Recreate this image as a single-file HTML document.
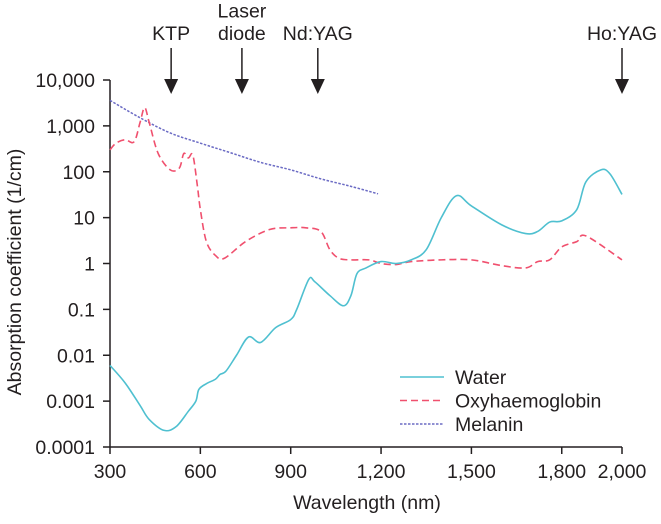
<!DOCTYPE html>
<html><head><meta charset="utf-8"><style>
body{margin:0;background:#fff;}
svg text{font-family:"Liberation Sans",Arial,sans-serif;fill:#231f20;}
</style></head><body>
<svg id="c" width="661" height="519"></svg>
<script>
const waterWl=[300,350,400,430,480,520,560,585,595,620,650,665,685,720,760,800,850,900,920,960,980,1030,1075,1100,1120,1150,1200,1250,1300,1350,1400,1450,1500,1600,1680,1720,1760,1800,1850,1880,1930,1960,2000];
const waterVal=[0.006,0.0025,0.0008,0.0004,0.00023,0.00028,0.0006,0.001,0.0018,0.0024,0.003,0.0038,0.0045,0.01,0.025,0.019,0.04,0.06,0.1,0.45,0.4,0.2,0.12,0.2,0.6,0.8,1.1,1.0,1.2,2,10,30,18,7,4.5,5,8,8.5,15,60,110,90,32];
const oxyWl=[300,320,350,380,400,415,430,460,500,530,545,560,575,590,600,620,650,680,750,830,900,950,1000,1030,1060,1100,1160,1200,1250,1300,1400,1500,1600,1680,1720,1760,1800,1850,1880,2000];
const oxyVal=[300,420,500,450,1200,2500,1200,250,110,120,250,200,230,50,15,3,1.5,1.3,3,5.5,6,6,5,2,1.3,1.2,1.2,1.0,0.95,1.1,1.2,1.2,0.9,0.8,1.1,1.2,2.3,3,4,1.2];
const melWl=[300,400,500,600,700,800,900,1000,1100,1190];
const melVal=[3600,1500,700,420,260,160,110,70,48,33];
const xTicks=[300,600,900,1200,1500,1800,2000];
const xTickLabels=["300","600","900","1,200","1,500","1,800","2,000"];
const yTicks=[10000,1000,100,10,1,0.1,0.01,0.001,0.0001];
const yTickLabels=["10,000","1,000","100","10","1","0.1","0.01","0.001","0.0001"];
const laserWl=[503,738,990,2000];
const laserNames=[["KTP"],["Laser","diode"],["Nd:YAG"],["Ho:YAG"]];

const NS="http://www.w3.org/2000/svg";
const svg=document.getElementById('c');
const X0=110,X1=622,Y0=80,Y1=447;
const FS=19.5;
const x=w=>X0+(w-300)/(2000-300)*(X1-X0);
const y=v=>Y0+(4-Math.log10(v))/8*(Y1-Y0);
function el(t,a,p){const e=document.createElementNS(NS,t);for(const k in a)e.setAttribute(k,a[k]);(p||svg).appendChild(e);return e;}
function path(ws,vs){const p=ws.map((w,i)=>[x(w),y(vs[i])]);let d=`M${p[0][0]},${p[0][1]}`;
for(let i=0;i<p.length-1;i++){const a=p[Math.max(0,i-1)],b=p[i],c=p[i+1],e=p[Math.min(p.length-1,i+2)];
d+=` C${b[0]+(c[0]-a[0])/6},${b[1]+(c[1]-a[1])/6} ${c[0]-(e[0]-b[0])/6},${c[1]-(e[1]-b[1])/6} ${c[0]},${c[1]}`;}return d;}

let e;
e=el('line',{x1:X0,y1:Y0,x2:X0,y2:Y1,stroke:'#231f20','stroke-width':1.5});

e=el('line',{x1:X0,y1:Y1,x2:X1,y2:Y1,stroke:'#231f20','stroke-width':1.5});

yTicks.forEach((v,i)=>{el('line',{x1:X0-7,x2:X0,y1:y(v),y2:y(v),stroke:'#231f20','stroke-width':1.5});
const t=el('text',{x:X0-15,y:y(v)+7,'text-anchor':'end','font-size':FS});t.textContent=yTickLabels[i];
});
xTicks.forEach((w,i)=>{el('line',{x1:x(w),x2:x(w),y1:Y1,y2:Y1+7,stroke:'#231f20','stroke-width':1.5});
const t=el('text',{x:x(w),y:478,'text-anchor':'middle','font-size':FS});t.textContent=xTickLabels[i];
});
e=el('text',{x:367,y:509,'text-anchor':'middle','font-size':FS});e.textContent='Wavelength (nm)';

e=el('text',{x:0,y:0,'text-anchor':'middle','font-size':FS,transform:'translate(21,272) rotate(-90)'});e.textContent='Absorption coefficient (1/cm)';


e=el('path',{d:path(melWl,melVal),fill:'none',stroke:'#6b6bc4','stroke-width':1.5,'stroke-dasharray':'2.5 1.5'});

e=el('path',{d:path(oxyWl,oxyVal),fill:'none',stroke:'#f0506e','stroke-width':1.6,'stroke-dasharray':'7 4'});

e=el('path',{d:path(waterWl,waterVal),fill:'none',stroke:'#4fc0d0','stroke-width':1.6});


laserWl.forEach((w,i)=>{const g=el('g',{});

el('line',{x1:x(w),x2:x(w),y1:48,y2:84,stroke:'#231f20','stroke-width':1.5},g);
el('polygon',{points:`${x(w)-7},79 ${x(w)+7},79 ${x(w)},94`,fill:'#231f20'},g);
const n=laserNames[i];n.forEach((s,j)=>{const t=el('text',{x:x(w),y:40-(n.length-1-j)*22.5,'text-anchor':'middle','font-size':FS},g);t.textContent=s;});});

const leg=[['Water','#4fc0d0',''],['Oxyhaemoglobin','#f0506e','7 4'],['Melanin','#6b6bc4','2.5 1.5']];
leg.forEach((l,i)=>{const g=el('g',{});
const yy=377+i*23.5;el('line',{x1:400,x2:444,y1:yy,y2:yy,stroke:l[1],'stroke-width':1.6,'stroke-dasharray':l[2]},g);
const t=el('text',{x:455,y:yy+7,'font-size':FS},g);t.textContent=l[0];});
</script>
</body></html>
